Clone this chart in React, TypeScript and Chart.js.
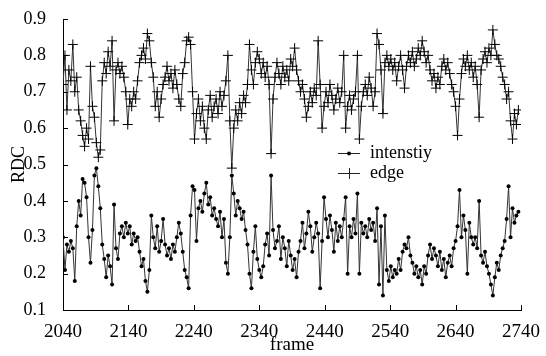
import React, { useEffect, useRef } from "react";
import { Chart, registerables } from "chart.js";
Chart.register(...registerables);

const FONT = "'Liberation Serif', 'Times New Roman', serif";

const frameStart = 2040;
const frameStep = 3;
const xTickMin = 2040;
const xTickMax = 2740;
const yTickMin = 0.1;
const yTickMax = 0.9;
const seriesNames = ["intenstiy", "edge"];

const intensity = [
  0.30, 0.21, 0.28, 0.26, 0.29, 0.27, 0.18, 0.33, 0.40, 0.36,
  0.46, 0.45, 0.41, 0.30, 0.23, 0.32, 0.47, 0.49, 0.44, 0.38,
  0.28, 0.24, 0.19, 0.25, 0.22, 0.17, 0.39, 0.27, 0.24, 0.31,
  0.33, 0.30, 0.34, 0.31, 0.33, 0.28, 0.31, 0.29, 0.30, 0.26,
  0.22, 0.24, 0.18, 0.15, 0.21, 0.36, 0.30, 0.27, 0.33, 0.26,
  0.29, 0.35, 0.28, 0.25, 0.27, 0.24, 0.28, 0.26, 0.30, 0.34,
  0.31, 0.26, 0.21, 0.19, 0.16, 0.36, 0.44, 0.43, 0.29, 0.38,
  0.40, 0.37, 0.42, 0.45, 0.39, 0.41, 0.36, 0.38, 0.35, 0.33,
  0.37, 0.30, 0.35, 0.23, 0.20, 0.30, 0.47, 0.42, 0.36, 0.40,
  0.38, 0.35, 0.37, 0.32, 0.28, 0.20, 0.16, 0.26, 0.33, 0.24,
  0.21, 0.19, 0.22, 0.28, 0.31, 0.25, 0.47, 0.32, 0.27, 0.29,
  0.33, 0.24, 0.30, 0.27, 0.22, 0.29, 0.25, 0.21, 0.24, 0.19,
  0.26, 0.29, 0.34, 0.27, 0.31, 0.37, 0.33, 0.26, 0.30, 0.34,
  0.31, 0.16, 0.29, 0.41, 0.35, 0.30, 0.36, 0.32, 0.26, 0.34,
  0.29, 0.33, 0.30, 0.35, 0.41, 0.20, 0.33, 0.30, 0.35, 0.31,
  0.42, 0.20, 0.34, 0.31, 0.33, 0.30, 0.35, 0.32, 0.34, 0.29,
  0.38, 0.17, 0.33, 0.14, 0.36, 0.21, 0.18, 0.22, 0.19, 0.21,
  0.20, 0.24, 0.21, 0.26, 0.28, 0.27, 0.30, 0.25, 0.23, 0.20,
  0.22, 0.19, 0.21, 0.17, 0.22, 0.20, 0.25, 0.28, 0.24, 0.27,
  0.25, 0.22, 0.26, 0.21, 0.24, 0.19, 0.23, 0.25, 0.22, 0.27,
  0.29, 0.33, 0.43, 0.30, 0.36, 0.32, 0.20, 0.34, 0.30, 0.28,
  0.30, 0.27, 0.40, 0.25, 0.23, 0.26, 0.22, 0.20, 0.17, 0.14,
  0.19, 0.23, 0.21, 0.25, 0.27, 0.29, 0.35, 0.44, 0.30, 0.38,
  0.34, 0.36, 0.37,
];

const edge = [
  0.72, 0.80, 0.65, 0.76, 0.73, 0.83, 0.70, 0.74, 0.65, 0.62,
  0.58, 0.55, 0.60, 0.57, 0.77, 0.66, 0.63, 0.56, 0.52, 0.54,
  0.73, 0.78, 0.75, 0.81, 0.77, 0.84, 0.62, 0.76, 0.78, 0.75,
  0.77, 0.74, 0.70, 0.61, 0.68, 0.66, 0.70, 0.68, 0.73, 0.78,
  0.80, 0.82, 0.79, 0.86, 0.84, 0.78, 0.74, 0.66, 0.70, 0.63,
  0.68, 0.72, 0.74, 0.77, 0.73, 0.75, 0.71, 0.76, 0.72, 0.68,
  0.66, 0.75, 0.78, 0.84, 0.85, 0.83, 0.70, 0.57, 0.64, 0.68,
  0.62, 0.66, 0.60, 0.57, 0.65, 0.69, 0.63, 0.66, 0.68, 0.64,
  0.70, 0.66, 0.69, 0.73, 0.80, 0.62, 0.49, 0.60, 0.65, 0.62,
  0.67, 0.64, 0.69, 0.67, 0.72, 0.83, 0.76, 0.72, 0.78, 0.81,
  0.79, 0.75, 0.78, 0.74, 0.77, 0.72, 0.53, 0.68, 0.74, 0.78,
  0.75, 0.72, 0.77, 0.74, 0.76, 0.73, 0.79, 0.77, 0.82, 0.76,
  0.73, 0.70, 0.72, 0.68, 0.63, 0.66, 0.70, 0.67, 0.71, 0.69,
  0.84, 0.72, 0.60, 0.66, 0.70, 0.67, 0.72, 0.69, 0.65, 0.68,
  0.71, 0.67, 0.70, 0.80, 0.60, 0.66, 0.69, 0.65, 0.68, 0.70,
  0.80, 0.57, 0.66, 0.70, 0.72, 0.69, 0.74, 0.71, 0.66, 0.70,
  0.86, 0.83, 0.76, 0.64, 0.78, 0.80, 0.77, 0.79, 0.76, 0.78,
  0.73, 0.77, 0.80, 0.76, 0.71, 0.77, 0.80, 0.78, 0.81, 0.77,
  0.79, 0.82, 0.80, 0.84, 0.81, 0.78, 0.80, 0.76, 0.73, 0.75,
  0.71, 0.74, 0.72, 0.77, 0.79, 0.76, 0.78, 0.75, 0.72, 0.70,
  0.66, 0.58, 0.68, 0.75, 0.79, 0.77, 0.80, 0.76, 0.78, 0.74,
  0.77, 0.72, 0.63, 0.76, 0.79, 0.81, 0.78, 0.82, 0.80, 0.87,
  0.83, 0.80, 0.79, 0.77, 0.74, 0.72, 0.68, 0.70, 0.62, 0.57,
  0.64, 0.61, 0.65,
];

const frames = intensity.map((_, i) => frameStart + i * frameStep);

export default function App() {
  const ref = useRef<HTMLCanvasElement>(null);

  useEffect(() => {
    const canvas = ref.current;
    if (!canvas) return;

    const inwardTicks = {
      id: "inwardTicks",
      afterDraw(chart: any) {
        const { ctx, chartArea, scales } = chart;
        const xs = scales.x;
        const ys = scales.y;
        ctx.save();
        ctx.strokeStyle = "#000";
        ctx.lineWidth = 1;
        xs.ticks.forEach((t: any) => {
          const px = Math.round(xs.getPixelForValue(t.value)) + 0.5;
          ctx.beginPath();
          ctx.moveTo(px, chartArea.bottom);
          ctx.lineTo(px, chartArea.bottom - 5);
          ctx.stroke();
        });
        ys.ticks.forEach((t: any) => {
          const py = Math.round(ys.getPixelForValue(t.value)) + 0.5;
          ctx.beginPath();
          ctx.moveTo(chartArea.left, py);
          ctx.lineTo(chartArea.left + 5, py);
          ctx.stroke();
        });

        // legend inside the plot
        const lx = chartArea.left + 275;
        const ly1 = chartArea.top + 134;
        const ly2 = chartArea.top + 154;
        const len = 22;
        ctx.strokeStyle = "#222";
        ctx.fillStyle = "#000";
        ctx.beginPath();
        ctx.moveTo(lx, ly1 + 0.5);
        ctx.lineTo(lx + len, ly1 + 0.5);
        ctx.stroke();
        ctx.beginPath();
        ctx.arc(lx + len / 2, ly1 + 0.5, 2, 0, Math.PI * 2);
        ctx.fill();
        ctx.beginPath();
        ctx.moveTo(lx, ly2 + 0.5);
        ctx.lineTo(lx + len, ly2 + 0.5);
        ctx.moveTo(lx + len / 2 + 0.5, ly2 - 5);
        ctx.lineTo(lx + len / 2 + 0.5, ly2 + 6);
        ctx.stroke();
        ctx.font = `18px ${FONT}`;
        ctx.textBaseline = "middle";
        ctx.textAlign = "left";
        ctx.fillText(seriesNames[0], lx + 32, ly1);
        ctx.fillText(seriesNames[1], lx + 32, ly2);
        ctx.restore();
      },
    };

    const chart = new Chart(canvas, {
      type: "line",
      data: {
        datasets: [
          {
            label: seriesNames[0],
            data: intensity.map((v, i) => ({ x: frames[i], y: v })),
            borderColor: "#333",
            borderWidth: 1,
            pointStyle: "circle",
            pointRadius: 2,
            pointBackgroundColor: "#000",
            pointBorderColor: "#000",
            pointBorderWidth: 0,
            tension: 0,
            fill: false,
          },
          {
            label: seriesNames[1],
            data: edge.map((v, i) => ({ x: frames[i], y: v })),
            borderColor: "#333",
            borderWidth: 1,
            pointStyle: "cross",
            pointRadius: 5,
            pointBorderColor: "#000",
            pointBorderWidth: 1,
            tension: 0,
            fill: false,
          },
        ],
      },
      options: {
        responsive: false,
        animation: false,
        events: [],
        layout: { padding: { left: 0, right: 25, top: 19, bottom: 0 } },
        plugins: {
          legend: { display: false },
          tooltip: { enabled: false },
        },
        scales: {
          x: {
            type: "linear",
            min: xTickMin,
            max: xTickMax,
            grid: { display: false },
            border: { display: true, color: "#000", width: 1 },
            ticks: {
              stepSize: 100,
              autoSkip: false,
              maxRotation: 0,
              color: "#000",
              padding: 3,
              font: { family: FONT, size: 19 },
              callback: (v: any) => String(v),
            },
            title: {
              display: true,
              text: "frame",
              color: "#000",
              font: { family: FONT, size: 19 },
              padding: { top: 4, bottom: 0 },
            },
            afterFit(s: any) {
              s.height = 46;
              s.paddingLeft = 0;
              s.paddingRight = 0;
            },
          },
          y: {
            type: "linear",
            min: yTickMin,
            max: yTickMax,
            grid: { display: false },
            border: { display: true, color: "#000", width: 1 },
            ticks: {
              stepSize: 0.1,
              color: "#000",
              padding: 9,
              font: { family: FONT, size: 18 },
              callback: (v: any) => Number(v).toFixed(1),
            },
            title: {
              display: true,
              text: "RDC",
              color: "#000",
              font: { family: FONT, size: 18 },
              padding: { top: 8, bottom: 0 },
            },
            afterFit(s: any) {
              s.width = 63;
              s.paddingTop = 0;
              s.paddingBottom = 0;
            },
          },
        },
      },
      plugins: [inwardTicks],
    });

    return () => chart.destroy();
  }, []);

  return (
    <div
      style={{
        position: "absolute",
        left: 0,
        top: 0,
        width: 546,
        height: 356,
        background: "#fff",
      }}
    >
      <canvas ref={ref} width={546} height={356} style={{ display: "block" }} />
    </div>
  );
}
